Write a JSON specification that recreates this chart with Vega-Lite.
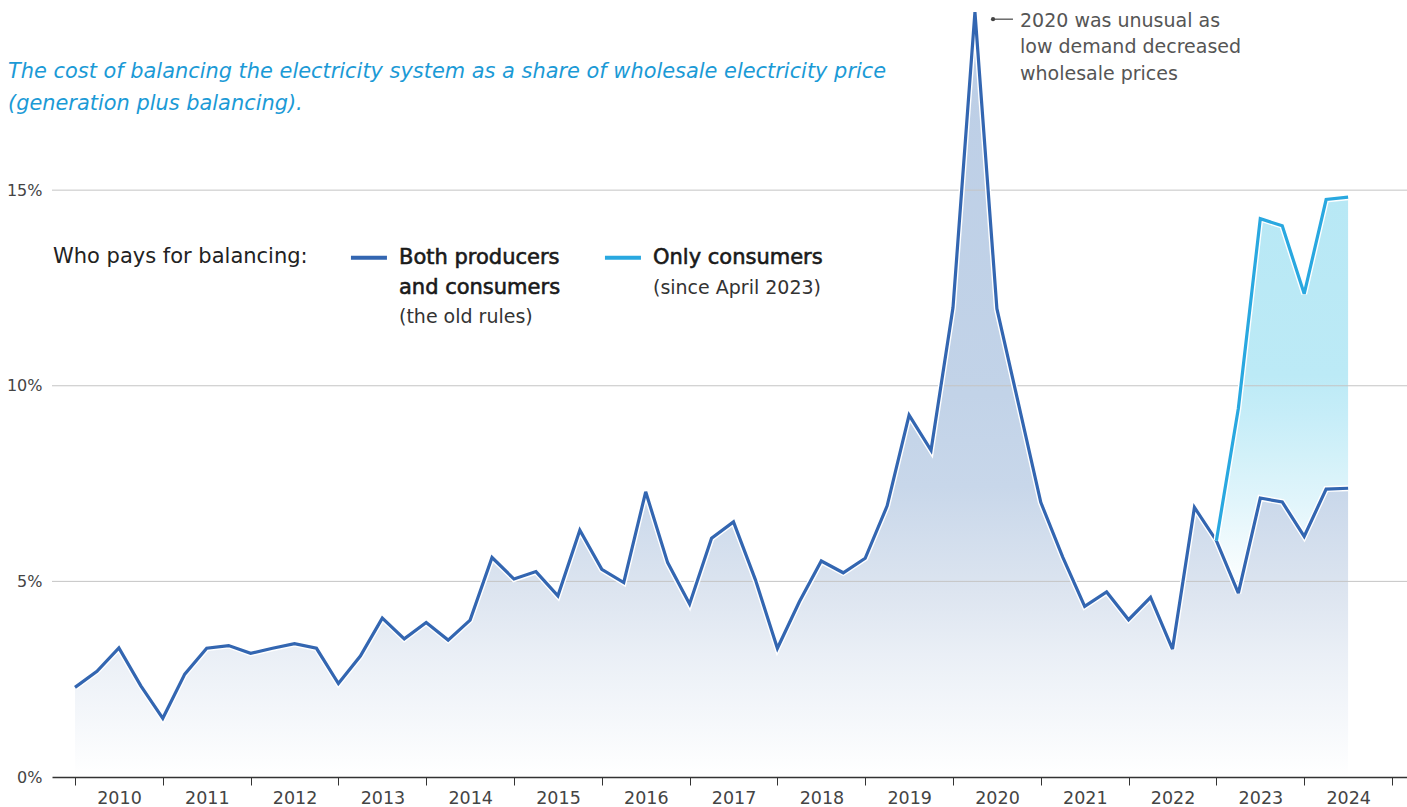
{
  "$schema": "https://vega.github.io/schema/vega-lite/v6.json",
  "width": 1355,
  "height": 777,
  "autosize": {"type": "none"},
  "padding": {"left": 52, "top": 0, "right": 0, "bottom": 30},
  "background": "white",
  "config": {"view": {"stroke": null}, "font": "DejaVu Sans"},
  "datasets": {
    "main": [
      {"t": 2010.0, "both": 2.29}, {"t": 2010.25, "both": 2.70}, {"t": 2010.5, "both": 3.30}, {"t": 2010.75, "both": 2.33},
      {"t": 2011.0, "both": 1.50}, {"t": 2011.25, "both": 2.63}, {"t": 2011.5, "both": 3.29}, {"t": 2011.75, "both": 3.36},
      {"t": 2012.0, "both": 3.16}, {"t": 2012.25, "both": 3.29}, {"t": 2012.5, "both": 3.41}, {"t": 2012.75, "both": 3.29},
      {"t": 2013.0, "both": 2.39}, {"t": 2013.25, "both": 3.09}, {"t": 2013.5, "both": 4.06}, {"t": 2013.75, "both": 3.53},
      {"t": 2014.0, "both": 3.95}, {"t": 2014.25, "both": 3.50}, {"t": 2014.5, "both": 4.01}, {"t": 2014.75, "both": 5.61},
      {"t": 2015.0, "both": 5.06}, {"t": 2015.25, "both": 5.25}, {"t": 2015.5, "both": 4.63}, {"t": 2015.75, "both": 6.31},
      {"t": 2016.0, "both": 5.31}, {"t": 2016.25, "both": 4.97}, {"t": 2016.5, "both": 7.29}, {"t": 2016.75, "both": 5.48},
      {"t": 2017.0, "both": 4.42}, {"t": 2017.25, "both": 6.10}, {"t": 2017.5, "both": 6.52}, {"t": 2017.75, "both": 5.04},
      {"t": 2018.0, "both": 3.29}, {"t": 2018.25, "both": 4.48}, {"t": 2018.5, "both": 5.52}, {"t": 2018.75, "both": 5.22},
      {"t": 2019.0, "both": 5.59}, {"t": 2019.25, "both": 6.93}, {"t": 2019.5, "both": 9.25}, {"t": 2019.75, "both": 8.35},
      {"t": 2020.0, "both": 12.0}, {"t": 2020.25, "both": 19.55}, {"t": 2020.5, "both": 11.97}, {"t": 2020.75, "both": 9.5},
      {"t": 2021.0, "both": 7.02}, {"t": 2021.25, "both": 5.62}, {"t": 2021.5, "both": 4.36}, {"t": 2021.75, "both": 4.73},
      {"t": 2022.0, "both": 4.02}, {"t": 2022.25, "both": 4.59}, {"t": 2022.5, "both": 3.27}, {"t": 2022.75, "both": 6.89},
      {"t": 2023.0, "both": 6.04, "consumers": 6.04}, {"t": 2023.25, "both": 4.70, "consumers": 9.42},
      {"t": 2023.5, "both": 7.13, "consumers": 14.27}, {"t": 2023.75, "both": 7.03, "consumers": 14.09},
      {"t": 2024.0, "both": 6.15, "consumers": 12.35}, {"t": 2024.25, "both": 7.36, "consumers": 14.76},
      {"t": 2024.5, "both": 7.38, "consumers": 14.82}
    ],
    "grid": [{"g": 5}, {"g": 10}, {"g": 15}],
    "one": [{"k": 1}]
  },
  "layer": [
    {
      "data": {"name": "main"},
      "mark": {"type": "area", "interpolate": "linear",
        "color": {"gradient": "linear", "x1": 0, "y1": 0, "x2": 0, "y2": 1,
          "stops": [
            {"offset": 0, "color": "#bccee6"},
            {"offset": 0.5, "color": "#c2d3e8"},
            {"offset": 0.62, "color": "#c8d7ea"},
            {"offset": 0.76, "color": "#dde5f0"},
            {"offset": 0.84, "color": "#eaeff6"},
            {"offset": 0.91, "color": "#f3f6fa"},
            {"offset": 1, "color": "#ffffff"}
          ]}},
      "encoding": {
        "x": {"field": "t", "type": "quantitative",
          "scale": {"domain": [2009.738, 2025.171], "nice": false, "zero": false},
          "axis": {"values": [2010, 2011, 2012, 2013, 2014, 2015, 2016, 2017, 2018, 2019, 2020, 2021, 2022, 2023, 2024, 2025],
            "format": "d", "labelExpr": "datum.value >= 2025 ? '' : datum.label", "labelOffset": 44, "labelFlush": false,
            "tickSize": 8, "tickColor": "#333333", "tickWidth": 1, "domainColor": "#333333", "domainWidth": 1.5,
            "labelColor": "#444444", "labelFontSize": 17.5, "labelFont": "DejaVu Sans", "labelPadding": 4, "grid": false, "title": null, "zindex": 1}},
        "y": {"field": "both", "type": "quantitative",
          "scale": {"domain": [0, 19.86], "nice": false},
          "axis": {"values": [0, 5, 10, 15], "labelExpr": "datum.value + '%'", "domain": false, "ticks": false, "grid": false,
            "labelPadding": 10, "labelFontSize": 16, "labelFont": "DejaVu Sans", "labelColor": "#444444", "labelFlush": false, "title": null}}
      }
    },
    {
      "data": {"name": "main"},
      "transform": [{"filter": "isValid(datum.consumers)"}],
      "mark": {"type": "area", "interpolate": "linear",
        "color": {"gradient": "linear", "x1": 0, "y1": 0, "x2": 0, "y2": 1,
          "stops": [
            {"offset": 0, "color": "#b8e8f5"},
            {"offset": 0.45, "color": "#bceaf6"},
            {"offset": 0.55, "color": "#c6edf8"},
            {"offset": 0.65, "color": "#d2f1f9"},
            {"offset": 0.77, "color": "#e1f5fb"},
            {"offset": 0.88, "color": "#f0fafd"},
            {"offset": 1, "color": "#ffffff"}
          ]}},
      "encoding": {
        "x": {"field": "t", "type": "quantitative"},
        "y": {"field": "consumers", "type": "quantitative"},
        "y2": {"field": "both"}
      }
    },
    {
      "data": {"name": "grid"},
      "mark": {"type": "rule", "color": "#c4c4c4", "strokeWidth": 1},
      "encoding": {"y": {"field": "g", "type": "quantitative"}}
    },
    {
      "data": {"name": "main"},
      "mark": {"type": "line", "color": "#ffffff", "strokeWidth": 6, "strokeJoin": "miter", "strokeMiterLimit": 3},
      "encoding": {
        "x": {"field": "t", "type": "quantitative"},
        "y": {"field": "both", "type": "quantitative"}
      }
    },
    {
      "data": {"name": "main"},
      "mark": {"type": "line", "color": "#3366b1", "strokeWidth": 3.2, "strokeJoin": "miter", "strokeMiterLimit": 3},
      "encoding": {
        "x": {"field": "t", "type": "quantitative"},
        "y": {"field": "both", "type": "quantitative"}
      }
    },
    {
      "data": {"name": "main"},
      "transform": [{"filter": "isValid(datum.consumers)"}],
      "mark": {"type": "line", "color": "#ffffff", "strokeWidth": 6, "strokeJoin": "miter", "strokeMiterLimit": 3},
      "encoding": {
        "x": {"field": "t", "type": "quantitative"},
        "y": {"field": "consumers", "type": "quantitative"}
      }
    },
    {
      "data": {"name": "main"},
      "transform": [{"filter": "isValid(datum.consumers)"}],
      "mark": {"type": "line", "color": "#29a8e0", "strokeWidth": 3.2, "strokeJoin": "miter", "strokeMiterLimit": 3},
      "encoding": {
        "x": {"field": "t", "type": "quantitative"},
        "y": {"field": "consumers", "type": "quantitative"}
      }
    },
    {
      "data": {"name": "one"},
      "mark": {"type": "text", "align": "left", "baseline": "middle", "fontStyle": "italic", "fontSize": 20.9, "color": "#1b9ad6", "font": "DejaVu Sans"},
      "encoding": {"x": {"datum": 2009.237, "type": "quantitative"}, "y": {"datum": 18.02, "type": "quantitative"},
        "text": {"value": "The cost of balancing the electricity system as a share of wholesale electricity price"}}
    },
    {
      "data": {"name": "one"},
      "mark": {"type": "text", "align": "left", "baseline": "middle", "fontStyle": "italic", "fontSize": 20.9, "color": "#1b9ad6", "font": "DejaVu Sans"},
      "encoding": {"x": {"datum": 2009.237, "type": "quantitative"}, "y": {"datum": 17.2, "type": "quantitative"},
        "text": {"value": "(generation plus balancing)."}}
    },
    {
      "data": {"name": "one"},
      "mark": {"type": "text", "align": "left", "baseline": "middle", "fontSize": 21, "color": "#222222", "font": "DejaVu Sans"},
      "encoding": {"x": {"datum": 2009.749, "type": "quantitative"}, "y": {"datum": 13.29, "type": "quantitative"},
        "text": {"value": "Who pays for balancing:"}}
    },
    {
      "data": {"name": "one"},
      "mark": {"type": "rule", "color": "#3366b1", "strokeWidth": 4},
      "encoding": {"x": {"datum": 2013.143, "type": "quantitative"}, "x2": {"datum": 2013.553}, "y": {"datum": 13.27, "type": "quantitative"}}
    },
    {
      "data": {"name": "one"},
      "mark": {"type": "rule", "color": "#29a8e0", "strokeWidth": 4},
      "encoding": {"x": {"datum": 2016.036, "type": "quantitative"}, "x2": {"datum": 2016.446}, "y": {"datum": 13.27, "type": "quantitative"}}
    },
    {
      "data": {"name": "one"},
      "mark": {"type": "text", "align": "left", "baseline": "middle", "fontSize": 21, "color": "#1a1a1a", "stroke": "#1a1a1a", "strokeWidth": 0.6, "font": "DejaVu Sans"},
      "encoding": {"x": {"datum": 2013.69, "type": "quantitative"}, "y": {"datum": 13.27, "type": "quantitative"},
        "text": {"value": "Both producers"}}
    },
    {
      "data": {"name": "one"},
      "mark": {"type": "text", "align": "left", "baseline": "middle", "fontSize": 21, "color": "#1a1a1a", "stroke": "#1a1a1a", "strokeWidth": 0.6, "font": "DejaVu Sans"},
      "encoding": {"x": {"datum": 2013.69, "type": "quantitative"}, "y": {"datum": 12.5, "type": "quantitative"},
        "text": {"value": "and consumers"}}
    },
    {
      "data": {"name": "one"},
      "mark": {"type": "text", "align": "left", "baseline": "middle", "fontSize": 19, "color": "#333333", "font": "DejaVu Sans"},
      "encoding": {"x": {"datum": 2013.69, "type": "quantitative"}, "y": {"datum": 11.76, "type": "quantitative"},
        "text": {"value": "(the old rules)"}}
    },
    {
      "data": {"name": "one"},
      "mark": {"type": "text", "align": "left", "baseline": "middle", "fontSize": 21, "color": "#1a1a1a", "stroke": "#1a1a1a", "strokeWidth": 0.6, "font": "DejaVu Sans"},
      "encoding": {"x": {"datum": 2016.583, "type": "quantitative"}, "y": {"datum": 13.27, "type": "quantitative"},
        "text": {"value": "Only consumers"}}
    },
    {
      "data": {"name": "one"},
      "mark": {"type": "text", "align": "left", "baseline": "middle", "fontSize": 19, "color": "#333333", "font": "DejaVu Sans"},
      "encoding": {"x": {"datum": 2016.583, "type": "quantitative"}, "y": {"datum": 12.5, "type": "quantitative"},
        "text": {"value": "(since April 2023)"}}
    },
    {
      "data": {"name": "one"},
      "mark": {"type": "rule", "color": "#444444", "strokeWidth": 1.2},
      "encoding": {"x": {"datum": 2020.456, "type": "quantitative"}, "x2": {"datum": 2020.683}, "y": {"datum": 19.37, "type": "quantitative"}}
    },
    {
      "data": {"name": "one"},
      "mark": {"type": "point", "filled": true, "color": "#444444", "size": 18, "opacity": 1},
      "encoding": {"x": {"datum": 2020.456, "type": "quantitative"}, "y": {"datum": 19.37, "type": "quantitative"}}
    },
    {
      "data": {"name": "one"},
      "mark": {"type": "text", "align": "left", "baseline": "middle", "fontSize": 19, "color": "#555555", "font": "DejaVu Sans"},
      "encoding": {"x": {"datum": 2020.763, "type": "quantitative"}, "y": {"datum": 19.32, "type": "quantitative"},
        "text": {"value": "2020 was unusual as"}}
    },
    {
      "data": {"name": "one"},
      "mark": {"type": "text", "align": "left", "baseline": "middle", "fontSize": 19, "color": "#555555", "font": "DejaVu Sans"},
      "encoding": {"x": {"datum": 2020.763, "type": "quantitative"}, "y": {"datum": 18.66, "type": "quantitative"},
        "text": {"value": "low demand decreased"}}
    },
    {
      "data": {"name": "one"},
      "mark": {"type": "text", "align": "left", "baseline": "middle", "fontSize": 19, "color": "#555555", "font": "DejaVu Sans"},
      "encoding": {"x": {"datum": 2020.763, "type": "quantitative"}, "y": {"datum": 17.97, "type": "quantitative"},
        "text": {"value": "wholesale prices"}}
    }
  ]
}
